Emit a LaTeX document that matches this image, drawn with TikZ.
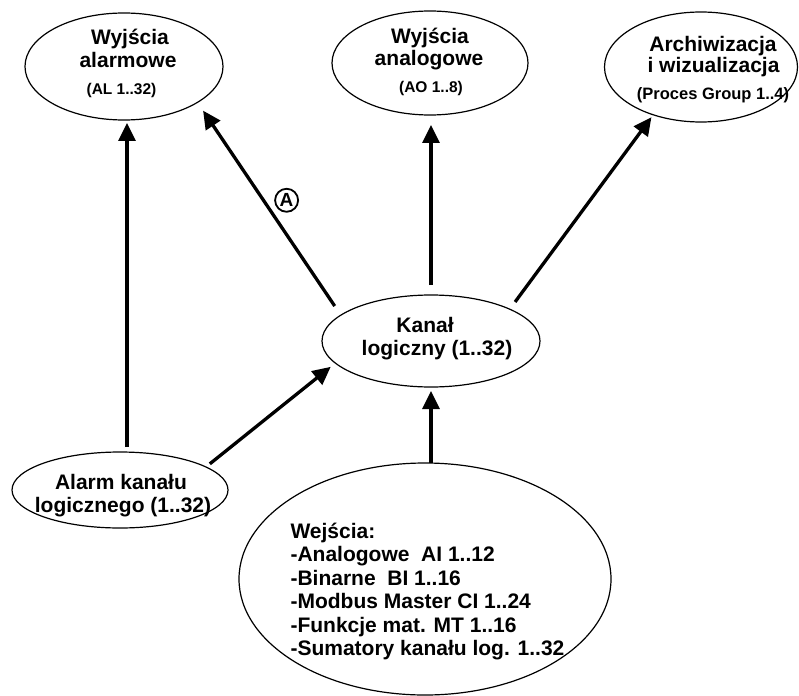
\documentclass[tikz,border=0pt]{standalone}
\usepackage{fontspec}
\setmainfont{Liberation Sans}
\usetikzlibrary{arrows.meta,shapes.geometric,positioning}

\begin{document}
\begin{tikzpicture}[x=1pt,y=-1pt,
  oval/.style={draw,ellipse,line width=1.2pt,inner sep=0pt,outer sep=0pt},
  big/.style={anchor=base,font=\fontsize{21}{23}\selectfont\bfseries},
  small/.style={anchor=base,font=\fontsize{15.5}{17}\selectfont\bfseries},
  arr/.style={line width=3.3pt,-{Triangle[length=18pt,width=17pt]}},
  circA/.style={draw,circle,line width=1.8pt,minimum size=23pt,inner sep=0pt,
    font=\fontsize{19}{19}\selectfont\bfseries}]
\useasboundingbox (0,0) rectangle (799,695);

% Wyjscia alarmowe
\node[oval,minimum width=198pt,minimum height=107pt] (wyal) at (124,66.5) {};
\node[big] (wyal1) at (130,45) {Wyjścia};
\node[big] (wyal2) at (128,68) {alarmowe};
\node[small] (wyal3) at (121.5,95) {(AL 1..32)};

% Wyjscia analogowe
\node[oval,minimum width=196pt,minimum height=104pt] (wyan) at (430,63) {};
\node[big] (wyan1) at (430,43.5) {Wyjścia};
\node[big] (wyan2) at (429,66) {analogowe};
\node[small] (wyan3) at (431,93) {(AO 1..8)};

% Archiwizacja
\node[oval,minimum width=193pt,minimum height=110pt] (arch) at (701,67) {};
\node[big] (arch1) at (713,52) {Archiwizacja};
\node[big] (arch2) at (713.5,72.5) {i wizualizacja};
\node[small,font=\fontsize{16.5}{18}\selectfont\bfseries] (arch3) at (713,100) {(Proces Group 1..4)};

% Kanal logiczny
\node[oval,minimum width=218pt,minimum height=92pt] (kanal) at (431,341) {};
\node[big] (kanal1) at (425,332.5) {Kanał};
\node[big] (kanal2) at (437,355) {logiczny (1..32)};

% Alarm kanalu
\node[oval,minimum width=216pt,minimum height=76pt] (alarm) at (120,490) {};
\node[big] (alarm1) at (121,489) {Alarm kanału};
\node[big] (alarm2) at (123,512.5) {logicznego (1..32)};

% Wejscia
\node[oval,minimum width=372pt,minimum height=232pt] (wej) at (425,579) {};
\foreach \i/\t in {0/{Wejścia:},1/{-Analogowe~ AI 1..12},2/{-Binarne~ BI 1..16},
    3/{-Modbus Master CI 1..24},4/{-Funkcje mat. MT 1..16},5/{-Sumatory kanału log. 1..32}} {
  \node[big,anchor=base west] (wej\i) at (287,538+23.5*\i) {\t};
}

% Arrows
\draw[arr,shorten <=5pt,shorten >=3pt] ([xshift=7pt]alarm.north) -- ([xshift=3pt]wyal.south);
\draw[arr,shorten <=11pt,shorten >=10pt] (kanal.164.9) -- (wyal.-26.1)
  node[circA,pos=0.49,xshift=16pt,yshift=10.6pt] (labA) {A};
\draw[arr,shorten <=10pt,shorten >=10pt] (kanal.north) -- (kanal.north |- wyan.south);
\draw[arr,shorten <=9pt,shorten >=3pt] (kanal.22) -- (arch.-135.7);
\draw[arr,shorten <=5pt,shorten >=6pt] (alarm.15.9) -- (kanal.193.9);
\draw[arr,shorten >=4pt] (wej.north -| kanal) -- (kanal.south);
\end{tikzpicture}
\end{document}
